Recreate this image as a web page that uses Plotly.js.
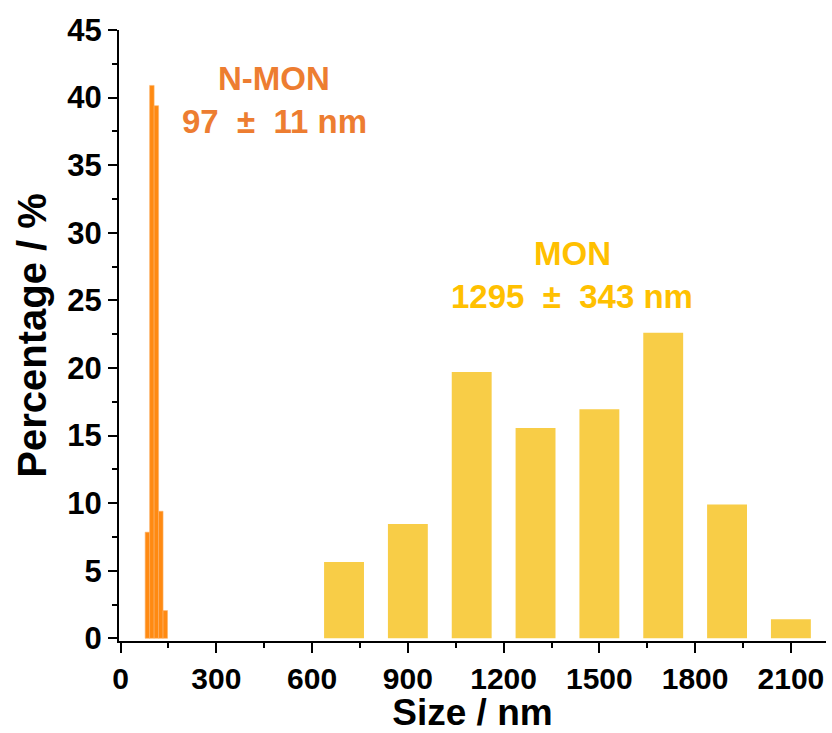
<!DOCTYPE html>
<html>
<head>
<meta charset="utf-8">
<script src="https://cdn.plot.ly/plotly-3.0.1.min.js"></script>
<style>html,body{margin:0;padding:0;background:#fff;}#chart{width:832px;height:733px;}</style>
</head>
<body>
<div id="chart"></div>
<script>
// N-MON size distribution
const nmonSize = [84, 98, 112, 126, 140];
const nmonPct = [7.85, 40.9, 39.4, 9.4, 2.05];
// MON size distribution
const monSize = [700, 900, 1100, 1300, 1500, 1700, 1900, 2100];
const monPct = [5.65, 8.45, 19.7, 15.55, 16.95, 22.6, 9.9, 1.4];
// axis ticks
const xTicks = [0, 300, 600, 900, 1200, 1500, 1800, 2100];
const yTicks = [0, 5, 10, 15, 20, 25, 30, 35, 40, 45];

const traces = [
  {type: 'bar', x: monSize, y: monPct, width: 125, name: 'MON',
   marker: {color: '#F8CD47', line: {width: 0}}},
  {type: 'bar', x: nmonSize, y: nmonPct, width: 14, name: 'N-MON',
   marker: {color: '#FF8A12', line: {color: '#FBB36A', width: 0.6}}}
];

const layout = {
  width: 832, height: 733,
  margin: {l: 119, r: 6, t: 30, b: 92},
  paper_bgcolor: '#fff', plot_bgcolor: '#fff',
  showlegend: false,
  barmode: 'overlay',
  font: {family: 'Liberation Sans, Arial, sans-serif', color: '#000'},
  xaxis: {
    range: [-5, 2210], tickvals: xTicks, ticktext: xTicks.map(String),
    showgrid: false, zeroline: false, showline: true, linecolor: '#000', linewidth: 2,
    ticks: 'outside', ticklen: 10, tickwidth: 2, tickcolor: '#000',
    minor: {dtick: 150, tick0: 0, ticks: 'outside', ticklen: 5, tickwidth: 2, tickcolor: '#000'},
    tickfont: {family: 'Liberation Sans, Arial, sans-serif', size: 30, color: '#000', weight: 'bold'},
    title: {text: '<b>Size / nm</b>', font: {size: 37, color: '#000'}, standoff: 2}
  },
  yaxis: {
    range: [-0.2, 45], tickvals: yTicks, ticktext: yTicks.map(String),
    showgrid: false, zeroline: false, showline: true, linecolor: '#000', linewidth: 2,
    ticks: 'outside', ticklen: 9, tickwidth: 2, tickcolor: '#000',
    minor: {dtick: 2.5, tick0: 0, ticks: 'outside', ticklen: 5, tickwidth: 2, tickcolor: '#000'},
    tickfont: {family: 'Liberation Sans, Arial, sans-serif', size: 31, color: '#000', weight: 'bold'},
    title: {text: '<b>Percentage / %</b>', font: {size: 40, color: '#000'}, standoff: 8}
  },
  annotations: [
    {xref: 'paper', yref: 'paper', x: (274-119)/707, y: (641-78)/611, text: '<b>N-MON</b>',
     showarrow: false, font: {size: 33, color: '#ED7D31'}, xanchor: 'center', yanchor: 'middle'},
    {xref: 'paper', yref: 'paper', x: (274-119)/707, y: (641-122)/611, text: '<b>97  ±  11 nm</b>',
     showarrow: false, font: {size: 33, color: '#ED7D31'}, xanchor: 'center', yanchor: 'middle'},
    {xref: 'paper', yref: 'paper', x: (572-119)/707, y: (641-253)/611, text: '<b>MON</b>',
     showarrow: false, font: {size: 33, color: '#FFC000'}, xanchor: 'center', yanchor: 'middle'},
    {xref: 'paper', yref: 'paper', x: (572-119)/707, y: (641-297)/611, text: '<b>1295  ±  343 nm</b>',
     showarrow: false, font: {size: 33, color: '#FFC000'}, xanchor: 'center', yanchor: 'middle'}
  ]
};

Plotly.newPlot('chart', traces, layout, {displayModeBar: false, staticPlot: true});
</script>
</body>
</html>
